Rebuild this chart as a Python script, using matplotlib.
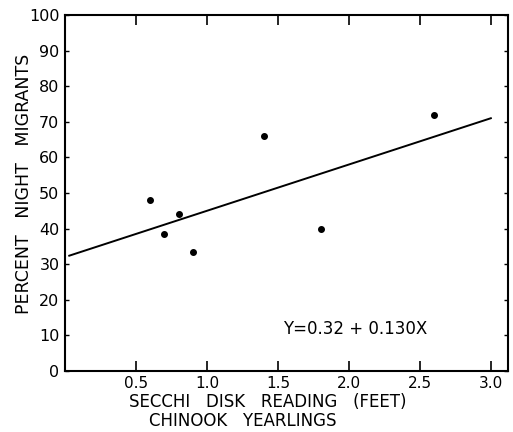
import numpy as np
import matplotlib
matplotlib.use("Agg")
import matplotlib.pyplot as plt

# ----------------------------
# Dados
# ----------------------------
secchi = [0.6, 0.7, 0.8, 0.9, 1.4, 1.8, 2.6]
night_pct = [48, 38.5, 44, 33.5, 66, 40, 72]

# linha de regressao: Y = 0.32 + 0.130 X (em fracao)
intercept = 32.0
slope = 13.0
line_x = [0.03, 3.0]

x_ticks = [0.5, 1.0, 1.5, 2.0, 2.5, 3.0]
x_tick_labels = ["0.5", "1.0", "1.5", "2.0", "2.5", "3.0"]
y_ticks = [0, 10, 20, 30, 40, 50, 60, 70, 80, 90, 100]

# ----------------------------
# Figura
# ----------------------------
plt.rcParams["font.family"] = ["DejaVu Sans"]
fig = plt.figure(figsize=(5.13, 4.32), dpi=100)
ax = fig.add_axes([0.1267, 0.1412, 0.8633, 0.8241])

ax.scatter(secchi, night_pct, s=16, color="black", zorder=3)
line_y = [intercept + slope * v for v in line_x]
ax.plot(line_x, line_y, color="black", lw=1.4)

ax.set_xlim(0, 3.12)
ax.set_ylim(0, 100)
ax.set_xticks(x_ticks)
ax.set_xticklabels(x_tick_labels)
ax.set_yticks(y_ticks)

for s in ax.spines.values():
    s.set_linewidth(1.5)

ax.tick_params(axis="x", direction="in", length=7, width=1.2,
               top=True, labelsize=11, pad=3.5)
ax.tick_params(axis="y", direction="in", length=3, width=1.0,
               right=True, labelsize=11.5, pad=4)

ax.text(1.535, 11.8, "Y=0.32 + 0.130X", fontsize=12, va="center", ha="left")

fig.text(0.047, 0.575, "PERCENT   NIGHT   MIGRANTS", fontsize=12.5,
         rotation=90, ha="center", va="center")
fig.text(0.521, 0.07, "SECCHI   DISK   READING   (FEET)", fontsize=12,
         ha="center", va="center")
fig.text(0.473, 0.025, "CHINOOK   YEARLINGS", fontsize=12,
         ha="center", va="center")

fig.savefig("out.png", dpi=100)
